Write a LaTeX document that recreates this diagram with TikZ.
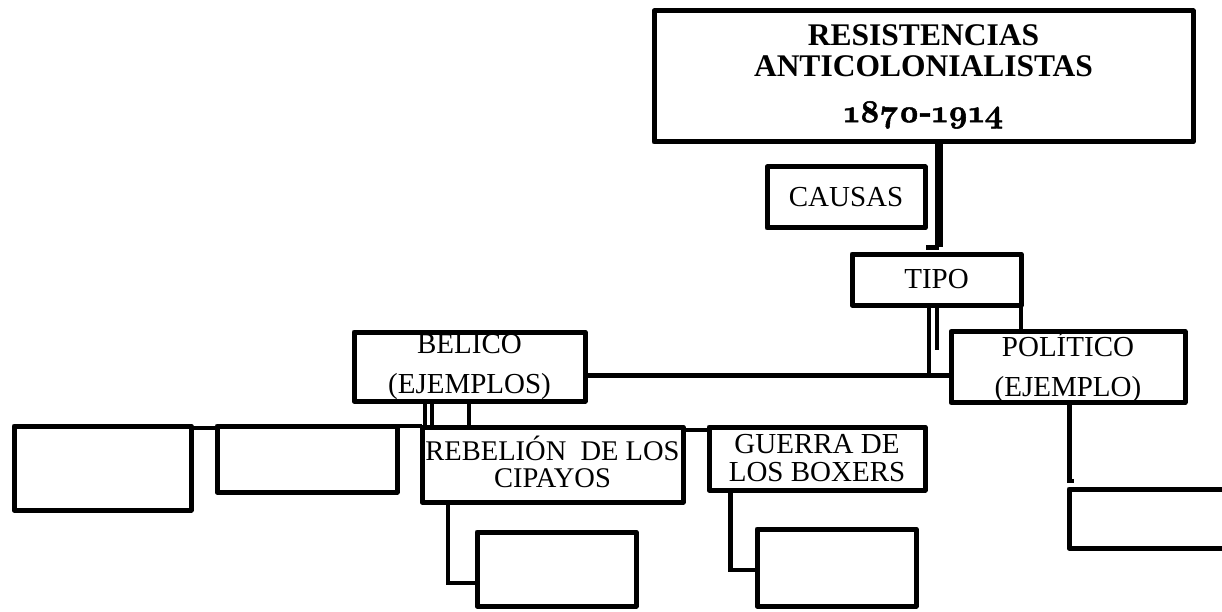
\documentclass[tikz,border=0pt]{standalone}
\usepackage{fontspec}
\setmainfont{Liberation Serif}
\newfontfamily\oldnums{lmroman10-bold.otf}[Numbers=OldStyle, FakeBold=1.5]
\begin{document}
\begin{tikzpicture}[x=1pt,y=-1pt,
  box/.style={draw, line width=5pt, line join=round, rectangle, inner sep=0pt, outer sep=0pt,
    font=\fontsize{29}{32}\selectfont, align=center},
  conn/.style={line width=4.5pt}]
\useasboundingbox (0,0) rectangle (1222,612);

% boxes
\node[box, minimum width=539pt, minimum height=131pt, font=\bfseries\fontsize{31.5}{31}\selectfont] (title) at (923.5,76.5) {RESISTENCIAS\\ANTICOLONIALISTAS\\[15pt]{\oldnums\mdseries\fontsize{32}{31}\selectfont 1870-1914}};
\node[box, minimum width=158pt, minimum height=61pt] (causas) at (846,197.5) {CAUSAS};
\node[box, minimum width=169pt, minimum height=51pt] (tipo) at (936.5,279.5) {TIPO};
\node[box, minimum width=231pt, minimum height=69pt, font=\fontsize{29}{40}\selectfont] (belico) at (469.5,366.5) {BELICO\\(EJEMPLOS)};
\node[box, minimum width=234pt, minimum height=66pt, font=\fontsize{29}{40}\selectfont] (politico) at (1068,367) {POLÍTICO\\(EJEMPLO)};
\node[box, minimum width=177pt, minimum height=84pt] (box1) at (102.5,468) {};
\node[box, minimum width=180pt, minimum height=66pt] (box2) at (307,459) {};
\node[box, minimum width=261pt, minimum height=75pt, text depth=6pt, font=\fontsize{28.5}{27}\selectfont] (rebelion) at (552.5,464.5) {REBELIÓN~ DE LOS\\CIPAYOS};
\node[box, minimum width=216pt, minimum height=63pt, font=\fontsize{29}{28}\selectfont] (guerra) at (817,458.5) {GUERRA DE\\LOS BOXERS};
\node[box, minimum width=159pt, minimum height=74pt] (rebchild) at (556.5,569) {};
\node[box, minimum width=159pt, minimum height=77pt] (guechild) at (836.5,567.5) {};
\node[box, minimum width=171pt, minimum height=59pt] (polchild) at (1154.5,518.5) {};

% title to tipo
\coordinate (tstem) at (939,247);
\draw[line width=8pt] (title.south -| tstem) -- (tstem);
\draw[line width=5pt] (tstem) -- ++(-13,0);

% tipo connectors
\coordinate (hjoin) at (928.5,375.5);
\draw[line width=4pt] (tipo.south -| hjoin) -- (hjoin);
\draw[conn] (belico.east |- hjoin) -- (politico.west |- hjoin);
\coordinate (tstub) at (937,350);
\draw[line width=4pt] (tipo.south -| tstub) -- (tstub);
\draw[line width=4.5pt] (tipo.south east) -- (politico.north -| tipo.south east);

% belico to row
\foreach \dx in {-44.5,-37.5,-0.5}
  \draw[line width=4pt] ([xshift=\dx pt]belico.south) -- ([xshift=\dx pt]belico.south |- rebelion.north);

% row connectors
\draw[line width=3.5pt] ([yshift=-2pt]box1.north east) -- ([yshift=-2pt]box2.north west);
\draw[conn] (box2.north east) -- (rebelion.west |- box2.north east);
\draw[line width=4pt] ([yshift=-3pt]rebelion.north east) -- ([yshift=-3pt]guerra.north west);

% children
\coordinate (rc) at (448,583);
\draw[conn] (rebelion.south -| rc) -- (rc) -- (rebchild.west |- rc);
\coordinate (gc) at (730.5,570);
\draw[conn] (guerra.south -| gc) -- (gc) -- (guechild.west |- gc);
\coordinate (pc) at (1069.5,481);
\draw[conn] (politico.south -| pc) -- (pc) -- ++(4,0);
\end{tikzpicture}
\end{document}
